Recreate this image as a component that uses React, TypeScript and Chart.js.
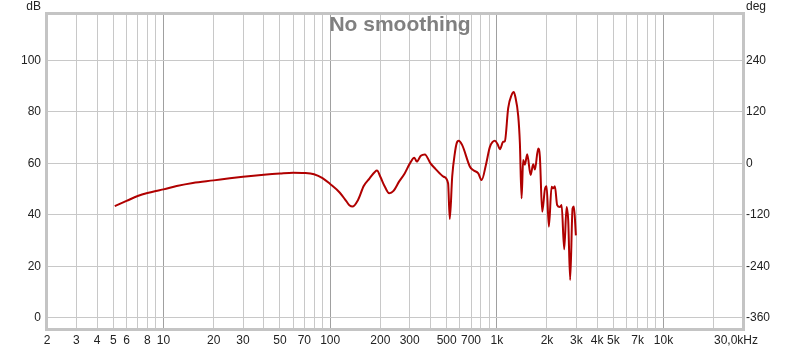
import React, { useEffect, useRef } from 'react';
import { Chart, registerables } from 'chart.js';

Chart.register(...registerables);

// Frequency (Hz) and SPL (dB)
const freqs = [
  5.1, 6, 7, 8, 9, 10, 12, 15, 20, 25, 30, 40, 50, 60, 70, 80, 90, 100,
  114, 125, 131, 136, 147, 159, 172, 186, 191, 200, 213, 226, 240, 259, 280,
  301, 320, 331, 350, 370, 400, 425, 455, 480, 510, 522, 540, 560, 574, 590,
  620, 690, 720, 774, 811, 860, 909, 974, 1010, 1044, 1092, 1118, 1170, 1227,
  1262, 1290, 1344, 1375, 1408, 1439, 1474, 1522, 1595, 1653, 1692, 1771,
  1813, 1872, 1942, 1989, 2053, 2131, 2179, 2230, 2302, 2390, 2448, 2537,
  2622, 2681, 2755, 2848, 2900, 2981,
];
const spl = [
  43.4, 45.4, 47.3, 48.5, 49.3, 49.9, 51.2, 52.4, 53.4, 54.2, 54.8, 55.6, 56.1, 56.4, 56.3, 55.8, 54.3, 52.0,
  48.7, 45.3, 43.6, 43.2, 45.8, 51.2, 54.1, 56.8, 57.2, 54.8, 50.9, 48.4, 49.3, 52.9, 56.1,
  60.0, 62.2, 60.7, 63.0, 63.5, 60.0, 58.1, 56.1, 54.8, 52.3, 38.4, 55.0, 64.0, 67.8, 68.8,
  67.1, 58.7, 57.4, 56.1, 53.5, 59.4, 66.4, 68.8, 67.5, 65.5, 68.4, 68.7, 81.5, 86.6,
  87.8, 86.0, 78.5, 68.0, 46.4, 61.3, 59.5, 63.6, 55.5, 59.7, 57.6, 65.8,
  62.6, 41.2, 49.8, 51.1, 35.4, 50.9, 50.3, 51.1, 43.8, 43.0, 43.8, 26.6,
  43.0, 38.0, 14.7, 42.5, 43.2, 32.0,
];

const xGridValues = [
  2, 3, 4, 5, 6, 7, 8, 9, 10, 20, 30, 40, 50, 60, 70, 80, 90, 100, 200, 300, 400, 500, 600, 700, 800, 900,
  1000, 2000, 3000, 4000, 5000, 6000, 7000, 8000, 9000, 10000, 20000, 30000,
];
const xLabelValues = [2, 3, 4, 5, 6, 8, 10, 20, 30, 50, 70, 100, 200, 300, 500, 700, 1000, 2000, 3000, 4000, 5000, 7000, 10000];
const xLabelTexts = ['2', '3', '4', '5', '6', '8', '10', '20', '30', '50', '70', '100', '200', '300', '500', '700', '1k', '2k', '3k', '4k', '5k', '7k', '10k'];
const lastXLabel = '30,0kHz';
const decadeValues = [10, 100, 1000, 10000];
const dbTicks = [0, 20, 40, 60, 80, 100];
const degTicks = [-360, -240, -120, 0, 120, 240];
const titleText = 'No smoothing';
const leftUnit = 'dB';
const rightUnit = 'deg';

const DB_MIN = -4.4;
const DB_MAX = 118.1;

export default function App() {
  const ref = useRef<HTMLCanvasElement>(null);

  useEffect(() => {
    const canvas = ref.current;
    if (!canvas) return;
    const FONT = '"Liberation Sans", Arial, sans-serif';
    const overlay = {
      id: 'overlay',
      afterDraw(chart: any) {
        const c = chart.ctx;
        const a = chart.chartArea;
        c.save();
        // frame
        c.strokeStyle = '#c4c4c4';
        c.lineWidth = 3;
        c.strokeRect(a.left - 0.5, a.top - 0.5, a.right - a.left + 1, a.bottom - a.top + 1);
        // title
        c.fillStyle = '#808080';
        c.font = 'bold 21px ' + FONT;
        c.textAlign = 'center';
        c.textBaseline = 'alphabetic';
        c.fillText(titleText, 400, 31);
        // units
        c.fillStyle = '#222';
        c.font = '12px ' + FONT;
        c.textAlign = 'right';
        c.fillText(leftUnit, 41, 10);
        c.textAlign = 'left';
        c.fillText(rightUnit, 746, 10);
        // last x label
        c.textAlign = 'right';
        c.textBaseline = 'middle';
        c.fillText(lastXLabel, 758, 340.2);
        c.restore();
      },
    };

    const labelMap: Record<string, string> = {};
    xLabelValues.forEach((v, i) => (labelMap[String(v)] = xLabelTexts[i]));

    const chart = new Chart(canvas, {
      type: 'line',
      data: {
        datasets: [
          {
            data: freqs.map((f, i) => ({ x: f, y: spl[i] })),
            borderColor: '#b00000',
            borderWidth: 2,
            pointRadius: 0,
            fill: false,
            cubicInterpolationMode: 'monotone',
            yAxisID: 'y',
          },
        ],
      },
      options: {
        responsive: false,
        animation: false,
        devicePixelRatio: 1,
        layout: { padding: { top: 14, left: 0, right: 0, bottom: 0 } },
        plugins: { legend: { display: false }, tooltip: { enabled: false }, title: { display: false } },
        scales: {
          x: {
            type: 'logarithmic',
            min: 2,
            max: 30000,
            afterBuildTicks: (s: any) => {
              s.ticks = xGridValues.map((v) => ({ value: v }));
            },
            afterFit: (s: any) => {
              s.height = 22;
            },
            grid: {
              drawTicks: false,
              color: (ctx: any) => (ctx.tick && decadeValues.includes(ctx.tick.value) ? '#a0a0a0' : '#c8c8c8'),
              lineWidth: 1,
            },
            border: { display: false },
            ticks: {
              autoSkip: false,
              maxRotation: 0,
              minRotation: 0,
              padding: 4,
              color: '#222',
              font: { family: FONT, size: 12 },
              callback: (v: any) => labelMap[String(v)] ?? '',
            },
          },
          y: {
            position: 'left',
            min: DB_MIN,
            max: DB_MAX,
            afterBuildTicks: (s: any) => {
              s.ticks = dbTicks.map((v) => ({ value: v }));
            },
            afterFit: (s: any) => {
              s.width = 47;
            },
            grid: { drawTicks: false, color: '#c8c8c8', lineWidth: 1 },
            border: { display: false },
            ticks: { padding: 6, color: '#222', font: { family: FONT, size: 12 } },
          },
          y2: {
            position: 'right',
            min: (DB_MIN - 60) * 6,
            max: (DB_MAX - 60) * 6,
            afterBuildTicks: (s: any) => {
              s.ticks = degTicks.map((v) => ({ value: v }));
            },
            afterFit: (s: any) => {
              s.width = 57;
            },
            grid: { display: false, drawTicks: false },
            border: { display: false },
            ticks: { padding: 3, color: '#222', font: { family: FONT, size: 12 } },
          },
        },
      } as any,
      plugins: [overlay],
    });
    return () => chart.destroy();
  }, []);

  return (
    <div style={{ position: 'absolute', left: 0, top: 0, width: 800, height: 351, background: '#fff' }}>
      <canvas ref={ref} width={800} height={351} style={{ display: 'block', width: 800, height: 351 }} />
    </div>
  );
}
